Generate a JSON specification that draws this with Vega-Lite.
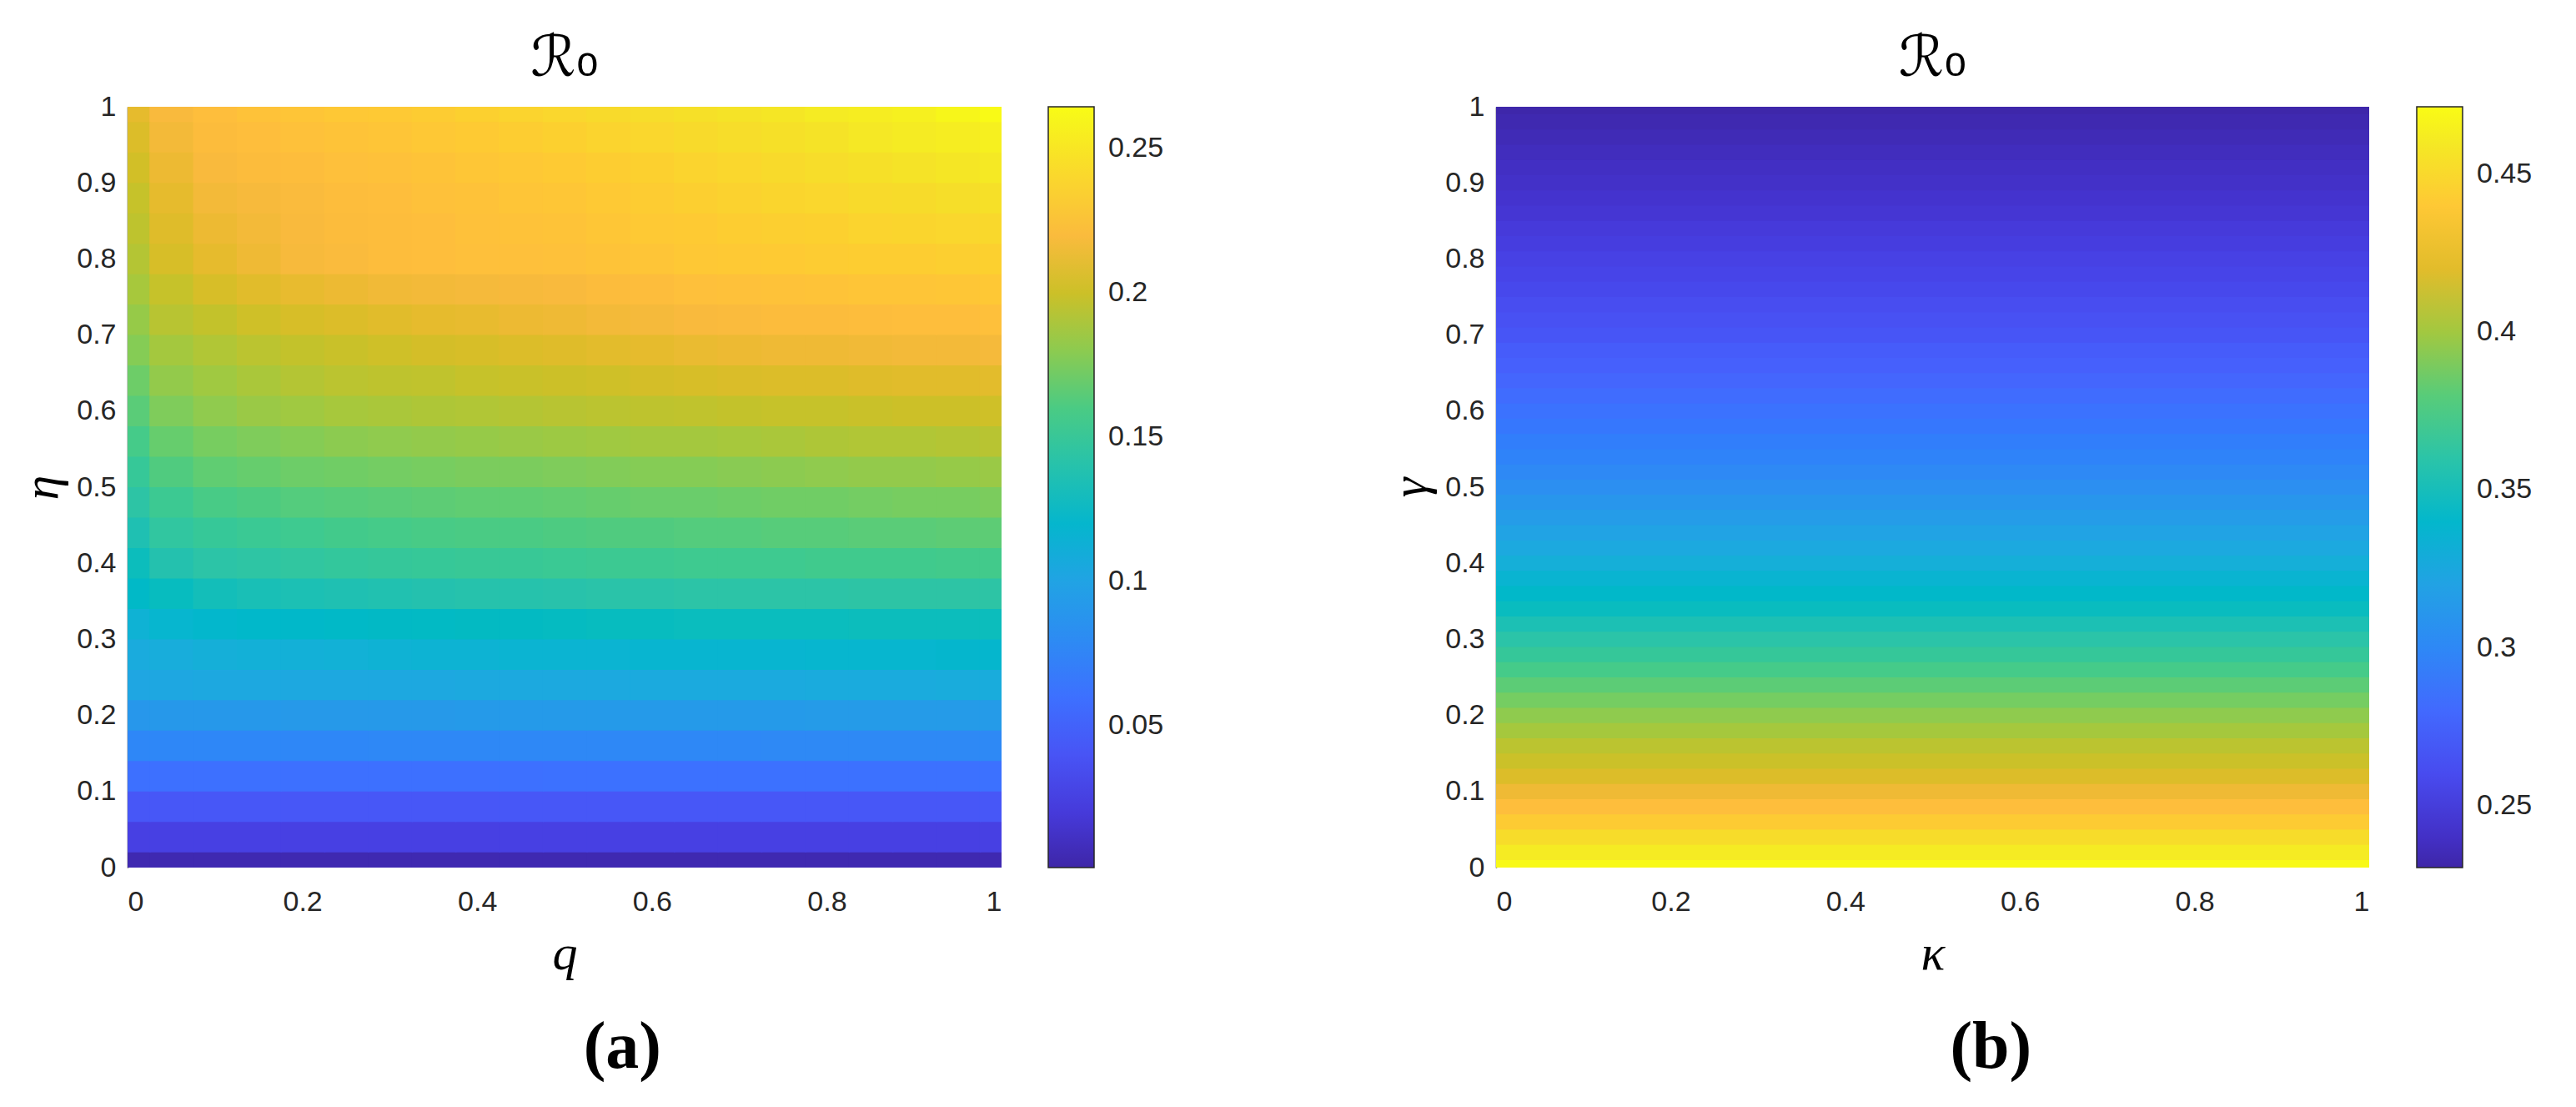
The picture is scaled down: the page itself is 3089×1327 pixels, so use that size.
{
"$schema":"https://vega.github.io/schema/vega-lite/v6.json",
"background":"white",
"padding":{"left":20,"top":37,"right":10,"bottom":10},
"spacing":265,
"config":{
 "view":{"stroke":null},
 "font":"Liberation Sans",
 "axis":{"labelFont":"Liberation Sans","labelFontSize":34,"labelColor":"#262626","ticks":false,"grid":false,"titleFont":"Liberation Serif","titleFontStyle":"italic","titleFontWeight":"normal","titleFontSize":60,"titleColor":"#000000"},
 "axisX":{"domain":false,"labelPadding":24,"titlePadding":16},
 "axisY":{"domain":true,"domainColor":"#262626","domainWidth":1.5,"labelPadding":14,"titlePadding":10},
 "legend":{"gradientVerticalMaxLength":2000,"padding":0},
 "title":{"font":"DejaVu Sans","fontSize":68,"fontWeight":"normal","color":"#000000"}
},
"resolve":{"scale":{"color":"independent","x":"independent","y":"independent"},"legend":{"color":"independent"}},
"hconcat":[
{"title":{"text":"(a)","orient":"bottom","font":"Liberation Serif","fontWeight":"bold","fontSize":80,"anchor":"middle","frame":"bounds","dx":38,"offset":44,"color":"#000000"},
 "vconcat":[{
  "width":1048,"height":912,
  "title":{"text":"ℛ₀","offset":6},
  "data":{"values":[
{"q":0,"eta":0,"R0":0.004},{"q":0.05,"eta":0,"R0":0.004},{"q":0.1,"eta":0,"R0":0.004},{"q":0.15,"eta":0,"R0":0.004},{"q":0.2,"eta":0,"R0":0.004},{"q":0.25,"eta":0,"R0":0.004},{"q":0.3,"eta":0,"R0":0.004},{"q":0.35,"eta":0,"R0":0.004},{"q":0.4,"eta":0,"R0":0.004},{"q":0.45,"eta":0,"R0":0.004},{"q":0.5,"eta":0,"R0":0.004},{"q":0.55,"eta":0,"R0":0.004},{"q":0.6,"eta":0,"R0":0.004},{"q":0.65,"eta":0,"R0":0.004},{"q":0.7,"eta":0,"R0":0.004},{"q":0.75,"eta":0,"R0":0.004},{"q":0.8,"eta":0,"R0":0.004},{"q":0.85,"eta":0,"R0":0.004},{"q":0.9,"eta":0,"R0":0.004},{"q":0.95,"eta":0,"R0":0.004},{"q":1,"eta":0,"R0":0.004},
{"q":0,"eta":0.04,"R0":0.025},{"q":0.05,"eta":0.04,"R0":0.025},{"q":0.1,"eta":0.04,"R0":0.025},{"q":0.15,"eta":0.04,"R0":0.025},{"q":0.2,"eta":0.04,"R0":0.025},{"q":0.25,"eta":0.04,"R0":0.025},{"q":0.3,"eta":0.04,"R0":0.025},{"q":0.35,"eta":0.04,"R0":0.025},{"q":0.4,"eta":0.04,"R0":0.025},{"q":0.45,"eta":0.04,"R0":0.025},{"q":0.5,"eta":0.04,"R0":0.025},{"q":0.55,"eta":0.04,"R0":0.025},{"q":0.6,"eta":0.04,"R0":0.025},{"q":0.65,"eta":0.04,"R0":0.025},{"q":0.7,"eta":0.04,"R0":0.025},{"q":0.75,"eta":0.04,"R0":0.025},{"q":0.8,"eta":0.04,"R0":0.025},{"q":0.85,"eta":0.04,"R0":0.025},{"q":0.9,"eta":0.04,"R0":0.025},{"q":0.95,"eta":0.04,"R0":0.025},{"q":1,"eta":0.04,"R0":0.025},
{"q":0,"eta":0.08,"R0":0.042},{"q":0.05,"eta":0.08,"R0":0.042},{"q":0.1,"eta":0.08,"R0":0.042},{"q":0.15,"eta":0.08,"R0":0.042},{"q":0.2,"eta":0.08,"R0":0.042},{"q":0.25,"eta":0.08,"R0":0.042},{"q":0.3,"eta":0.08,"R0":0.042},{"q":0.35,"eta":0.08,"R0":0.042},{"q":0.4,"eta":0.08,"R0":0.042},{"q":0.45,"eta":0.08,"R0":0.042},{"q":0.5,"eta":0.08,"R0":0.042},{"q":0.55,"eta":0.08,"R0":0.042},{"q":0.6,"eta":0.08,"R0":0.042},{"q":0.65,"eta":0.08,"R0":0.042},{"q":0.7,"eta":0.08,"R0":0.042},{"q":0.75,"eta":0.08,"R0":0.042},{"q":0.8,"eta":0.08,"R0":0.042},{"q":0.85,"eta":0.08,"R0":0.042},{"q":0.9,"eta":0.08,"R0":0.042},{"q":0.95,"eta":0.08,"R0":0.042},{"q":1,"eta":0.08,"R0":0.042},
{"q":0,"eta":0.12,"R0":0.06},{"q":0.05,"eta":0.12,"R0":0.06},{"q":0.1,"eta":0.12,"R0":0.06},{"q":0.15,"eta":0.12,"R0":0.06},{"q":0.2,"eta":0.12,"R0":0.06},{"q":0.25,"eta":0.12,"R0":0.06},{"q":0.3,"eta":0.12,"R0":0.06},{"q":0.35,"eta":0.12,"R0":0.06},{"q":0.4,"eta":0.12,"R0":0.06},{"q":0.45,"eta":0.12,"R0":0.06},{"q":0.5,"eta":0.12,"R0":0.061},{"q":0.55,"eta":0.12,"R0":0.061},{"q":0.6,"eta":0.12,"R0":0.061},{"q":0.65,"eta":0.12,"R0":0.061},{"q":0.7,"eta":0.12,"R0":0.061},{"q":0.75,"eta":0.12,"R0":0.061},{"q":0.8,"eta":0.12,"R0":0.061},{"q":0.85,"eta":0.12,"R0":0.061},{"q":0.9,"eta":0.12,"R0":0.061},{"q":0.95,"eta":0.12,"R0":0.061},{"q":1,"eta":0.12,"R0":0.061},
{"q":0,"eta":0.16,"R0":0.076},{"q":0.05,"eta":0.16,"R0":0.076},{"q":0.1,"eta":0.16,"R0":0.076},{"q":0.15,"eta":0.16,"R0":0.076},{"q":0.2,"eta":0.16,"R0":0.076},{"q":0.25,"eta":0.16,"R0":0.076},{"q":0.3,"eta":0.16,"R0":0.077},{"q":0.35,"eta":0.16,"R0":0.077},{"q":0.4,"eta":0.16,"R0":0.077},{"q":0.45,"eta":0.16,"R0":0.077},{"q":0.5,"eta":0.16,"R0":0.077},{"q":0.55,"eta":0.16,"R0":0.077},{"q":0.6,"eta":0.16,"R0":0.077},{"q":0.65,"eta":0.16,"R0":0.077},{"q":0.7,"eta":0.16,"R0":0.077},{"q":0.75,"eta":0.16,"R0":0.078},{"q":0.8,"eta":0.16,"R0":0.078},{"q":0.85,"eta":0.16,"R0":0.078},{"q":0.9,"eta":0.16,"R0":0.078},{"q":0.95,"eta":0.16,"R0":0.078},{"q":1,"eta":0.16,"R0":0.078},
{"q":0,"eta":0.2,"R0":0.089},{"q":0.05,"eta":0.2,"R0":0.09},{"q":0.1,"eta":0.2,"R0":0.09},{"q":0.15,"eta":0.2,"R0":0.09},{"q":0.2,"eta":0.2,"R0":0.091},{"q":0.25,"eta":0.2,"R0":0.091},{"q":0.3,"eta":0.2,"R0":0.091},{"q":0.35,"eta":0.2,"R0":0.091},{"q":0.4,"eta":0.2,"R0":0.092},{"q":0.45,"eta":0.2,"R0":0.092},{"q":0.5,"eta":0.2,"R0":0.092},{"q":0.55,"eta":0.2,"R0":0.092},{"q":0.6,"eta":0.2,"R0":0.092},{"q":0.65,"eta":0.2,"R0":0.092},{"q":0.7,"eta":0.2,"R0":0.092},{"q":0.75,"eta":0.2,"R0":0.092},{"q":0.8,"eta":0.2,"R0":0.093},{"q":0.85,"eta":0.2,"R0":0.093},{"q":0.9,"eta":0.2,"R0":0.093},{"q":0.95,"eta":0.2,"R0":0.093},{"q":1,"eta":0.2,"R0":0.093},
{"q":0,"eta":0.24,"R0":0.102},{"q":0.05,"eta":0.24,"R0":0.103},{"q":0.1,"eta":0.24,"R0":0.104},{"q":0.15,"eta":0.24,"R0":0.104},{"q":0.2,"eta":0.24,"R0":0.105},{"q":0.25,"eta":0.24,"R0":0.105},{"q":0.3,"eta":0.24,"R0":0.105},{"q":0.35,"eta":0.24,"R0":0.105},{"q":0.4,"eta":0.24,"R0":0.106},{"q":0.45,"eta":0.24,"R0":0.106},{"q":0.5,"eta":0.24,"R0":0.106},{"q":0.55,"eta":0.24,"R0":0.106},{"q":0.6,"eta":0.24,"R0":0.107},{"q":0.65,"eta":0.24,"R0":0.107},{"q":0.7,"eta":0.24,"R0":0.107},{"q":0.75,"eta":0.24,"R0":0.107},{"q":0.8,"eta":0.24,"R0":0.108},{"q":0.85,"eta":0.24,"R0":0.108},{"q":0.9,"eta":0.24,"R0":0.108},{"q":0.95,"eta":0.24,"R0":0.109},{"q":1,"eta":0.24,"R0":0.109},
{"q":0,"eta":0.28,"R0":0.108},{"q":0.05,"eta":0.28,"R0":0.11},{"q":0.1,"eta":0.28,"R0":0.112},{"q":0.15,"eta":0.28,"R0":0.113},{"q":0.2,"eta":0.28,"R0":0.113},{"q":0.25,"eta":0.28,"R0":0.114},{"q":0.3,"eta":0.28,"R0":0.115},{"q":0.35,"eta":0.28,"R0":0.116},{"q":0.4,"eta":0.28,"R0":0.116},{"q":0.45,"eta":0.28,"R0":0.117},{"q":0.5,"eta":0.28,"R0":0.117},{"q":0.55,"eta":0.28,"R0":0.117},{"q":0.6,"eta":0.28,"R0":0.118},{"q":0.65,"eta":0.28,"R0":0.118},{"q":0.7,"eta":0.28,"R0":0.118},{"q":0.75,"eta":0.28,"R0":0.118},{"q":0.8,"eta":0.28,"R0":0.119},{"q":0.85,"eta":0.28,"R0":0.119},{"q":0.9,"eta":0.28,"R0":0.119},{"q":0.95,"eta":0.28,"R0":0.12},{"q":1,"eta":0.28,"R0":0.12},
{"q":0,"eta":0.32,"R0":0.115},{"q":0.05,"eta":0.32,"R0":0.119},{"q":0.1,"eta":0.32,"R0":0.121},{"q":0.15,"eta":0.32,"R0":0.122},{"q":0.2,"eta":0.32,"R0":0.123},{"q":0.25,"eta":0.32,"R0":0.124},{"q":0.3,"eta":0.32,"R0":0.125},{"q":0.35,"eta":0.32,"R0":0.126},{"q":0.4,"eta":0.32,"R0":0.127},{"q":0.45,"eta":0.32,"R0":0.127},{"q":0.5,"eta":0.32,"R0":0.128},{"q":0.55,"eta":0.32,"R0":0.129},{"q":0.6,"eta":0.32,"R0":0.129},{"q":0.65,"eta":0.32,"R0":0.13},{"q":0.7,"eta":0.32,"R0":0.13},{"q":0.75,"eta":0.32,"R0":0.13},{"q":0.8,"eta":0.32,"R0":0.13},{"q":0.85,"eta":0.32,"R0":0.131},{"q":0.9,"eta":0.32,"R0":0.131},{"q":0.95,"eta":0.32,"R0":0.131},{"q":1,"eta":0.32,"R0":0.131},
{"q":0,"eta":0.36,"R0":0.124},{"q":0.05,"eta":0.36,"R0":0.129},{"q":0.1,"eta":0.36,"R0":0.133},{"q":0.15,"eta":0.36,"R0":0.135},{"q":0.2,"eta":0.36,"R0":0.136},{"q":0.25,"eta":0.36,"R0":0.137},{"q":0.3,"eta":0.36,"R0":0.138},{"q":0.35,"eta":0.36,"R0":0.139},{"q":0.4,"eta":0.36,"R0":0.14},{"q":0.45,"eta":0.36,"R0":0.14},{"q":0.5,"eta":0.36,"R0":0.141},{"q":0.55,"eta":0.36,"R0":0.142},{"q":0.6,"eta":0.36,"R0":0.142},{"q":0.65,"eta":0.36,"R0":0.143},{"q":0.7,"eta":0.36,"R0":0.143},{"q":0.75,"eta":0.36,"R0":0.143},{"q":0.8,"eta":0.36,"R0":0.143},{"q":0.85,"eta":0.36,"R0":0.144},{"q":0.9,"eta":0.36,"R0":0.144},{"q":0.95,"eta":0.36,"R0":0.144},{"q":1,"eta":0.36,"R0":0.144},
{"q":0,"eta":0.4,"R0":0.131},{"q":0.05,"eta":0.4,"R0":0.139},{"q":0.1,"eta":0.4,"R0":0.143},{"q":0.15,"eta":0.4,"R0":0.145},{"q":0.2,"eta":0.4,"R0":0.147},{"q":0.25,"eta":0.4,"R0":0.149},{"q":0.3,"eta":0.4,"R0":0.15},{"q":0.35,"eta":0.4,"R0":0.151},{"q":0.4,"eta":0.4,"R0":0.152},{"q":0.45,"eta":0.4,"R0":0.152},{"q":0.5,"eta":0.4,"R0":0.153},{"q":0.55,"eta":0.4,"R0":0.154},{"q":0.6,"eta":0.4,"R0":0.154},{"q":0.65,"eta":0.4,"R0":0.155},{"q":0.7,"eta":0.4,"R0":0.155},{"q":0.75,"eta":0.4,"R0":0.155},{"q":0.8,"eta":0.4,"R0":0.156},{"q":0.85,"eta":0.4,"R0":0.156},{"q":0.9,"eta":0.4,"R0":0.156},{"q":0.95,"eta":0.4,"R0":0.157},{"q":1,"eta":0.4,"R0":0.157},
{"q":0,"eta":0.44,"R0":0.137},{"q":0.05,"eta":0.44,"R0":0.147},{"q":0.1,"eta":0.44,"R0":0.151},{"q":0.15,"eta":0.44,"R0":0.153},{"q":0.2,"eta":0.44,"R0":0.155},{"q":0.25,"eta":0.44,"R0":0.157},{"q":0.3,"eta":0.44,"R0":0.158},{"q":0.35,"eta":0.44,"R0":0.159},{"q":0.4,"eta":0.44,"R0":0.16},{"q":0.45,"eta":0.44,"R0":0.16},{"q":0.5,"eta":0.44,"R0":0.161},{"q":0.55,"eta":0.44,"R0":0.162},{"q":0.6,"eta":0.44,"R0":0.162},{"q":0.65,"eta":0.44,"R0":0.163},{"q":0.7,"eta":0.44,"R0":0.163},{"q":0.75,"eta":0.44,"R0":0.164},{"q":0.8,"eta":0.44,"R0":0.164},{"q":0.85,"eta":0.44,"R0":0.165},{"q":0.9,"eta":0.44,"R0":0.165},{"q":0.95,"eta":0.44,"R0":0.166},{"q":1,"eta":0.44,"R0":0.166},
{"q":0,"eta":0.48,"R0":0.144},{"q":0.05,"eta":0.48,"R0":0.154},{"q":0.1,"eta":0.48,"R0":0.159},{"q":0.15,"eta":0.48,"R0":0.161},{"q":0.2,"eta":0.48,"R0":0.163},{"q":0.25,"eta":0.48,"R0":0.164},{"q":0.3,"eta":0.48,"R0":0.165},{"q":0.35,"eta":0.48,"R0":0.166},{"q":0.4,"eta":0.48,"R0":0.167},{"q":0.45,"eta":0.48,"R0":0.167},{"q":0.5,"eta":0.48,"R0":0.168},{"q":0.55,"eta":0.48,"R0":0.169},{"q":0.6,"eta":0.48,"R0":0.17},{"q":0.65,"eta":0.48,"R0":0.17},{"q":0.7,"eta":0.48,"R0":0.171},{"q":0.75,"eta":0.48,"R0":0.172},{"q":0.8,"eta":0.48,"R0":0.172},{"q":0.85,"eta":0.48,"R0":0.173},{"q":0.9,"eta":0.48,"R0":0.174},{"q":0.95,"eta":0.48,"R0":0.174},{"q":1,"eta":0.48,"R0":0.175},
{"q":0,"eta":0.52,"R0":0.151},{"q":0.05,"eta":0.52,"R0":0.162},{"q":0.1,"eta":0.52,"R0":0.167},{"q":0.15,"eta":0.52,"R0":0.169},{"q":0.2,"eta":0.52,"R0":0.171},{"q":0.25,"eta":0.52,"R0":0.172},{"q":0.3,"eta":0.52,"R0":0.173},{"q":0.35,"eta":0.52,"R0":0.174},{"q":0.4,"eta":0.52,"R0":0.175},{"q":0.45,"eta":0.52,"R0":0.175},{"q":0.5,"eta":0.52,"R0":0.176},{"q":0.55,"eta":0.52,"R0":0.177},{"q":0.6,"eta":0.52,"R0":0.178},{"q":0.65,"eta":0.52,"R0":0.178},{"q":0.7,"eta":0.52,"R0":0.179},{"q":0.75,"eta":0.52,"R0":0.18},{"q":0.8,"eta":0.52,"R0":0.181},{"q":0.85,"eta":0.52,"R0":0.182},{"q":0.9,"eta":0.52,"R0":0.182},{"q":0.95,"eta":0.52,"R0":0.183},{"q":1,"eta":0.52,"R0":0.184},
{"q":0,"eta":0.56,"R0":0.158},{"q":0.05,"eta":0.56,"R0":0.169},{"q":0.1,"eta":0.56,"R0":0.174},{"q":0.15,"eta":0.56,"R0":0.176},{"q":0.2,"eta":0.56,"R0":0.178},{"q":0.25,"eta":0.56,"R0":0.18},{"q":0.3,"eta":0.56,"R0":0.181},{"q":0.35,"eta":0.56,"R0":0.182},{"q":0.4,"eta":0.56,"R0":0.183},{"q":0.45,"eta":0.56,"R0":0.184},{"q":0.5,"eta":0.56,"R0":0.185},{"q":0.55,"eta":0.56,"R0":0.186},{"q":0.6,"eta":0.56,"R0":0.187},{"q":0.65,"eta":0.56,"R0":0.187},{"q":0.7,"eta":0.56,"R0":0.188},{"q":0.75,"eta":0.56,"R0":0.189},{"q":0.8,"eta":0.56,"R0":0.19},{"q":0.85,"eta":0.56,"R0":0.191},{"q":0.9,"eta":0.56,"R0":0.191},{"q":0.95,"eta":0.56,"R0":0.192},{"q":1,"eta":0.56,"R0":0.193},
{"q":0,"eta":0.6,"R0":0.165},{"q":0.05,"eta":0.6,"R0":0.176},{"q":0.1,"eta":0.6,"R0":0.181},{"q":0.15,"eta":0.6,"R0":0.184},{"q":0.2,"eta":0.6,"R0":0.186},{"q":0.25,"eta":0.6,"R0":0.188},{"q":0.3,"eta":0.6,"R0":0.189},{"q":0.35,"eta":0.6,"R0":0.19},{"q":0.4,"eta":0.6,"R0":0.191},{"q":0.45,"eta":0.6,"R0":0.192},{"q":0.5,"eta":0.6,"R0":0.193},{"q":0.55,"eta":0.6,"R0":0.194},{"q":0.6,"eta":0.6,"R0":0.195},{"q":0.65,"eta":0.6,"R0":0.196},{"q":0.7,"eta":0.6,"R0":0.197},{"q":0.75,"eta":0.6,"R0":0.198},{"q":0.8,"eta":0.6,"R0":0.198},{"q":0.85,"eta":0.6,"R0":0.199},{"q":0.9,"eta":0.6,"R0":0.2},{"q":0.95,"eta":0.6,"R0":0.2},{"q":1,"eta":0.6,"R0":0.201},
{"q":0,"eta":0.64,"R0":0.171},{"q":0.05,"eta":0.64,"R0":0.182},{"q":0.1,"eta":0.64,"R0":0.186},{"q":0.15,"eta":0.64,"R0":0.189},{"q":0.2,"eta":0.64,"R0":0.192},{"q":0.25,"eta":0.64,"R0":0.194},{"q":0.3,"eta":0.64,"R0":0.195},{"q":0.35,"eta":0.64,"R0":0.196},{"q":0.4,"eta":0.64,"R0":0.198},{"q":0.45,"eta":0.64,"R0":0.199},{"q":0.5,"eta":0.64,"R0":0.2},{"q":0.55,"eta":0.64,"R0":0.201},{"q":0.6,"eta":0.64,"R0":0.203},{"q":0.65,"eta":0.64,"R0":0.204},{"q":0.7,"eta":0.64,"R0":0.205},{"q":0.75,"eta":0.64,"R0":0.206},{"q":0.8,"eta":0.64,"R0":0.206},{"q":0.85,"eta":0.64,"R0":0.207},{"q":0.9,"eta":0.64,"R0":0.208},{"q":0.95,"eta":0.64,"R0":0.208},{"q":1,"eta":0.64,"R0":0.209},
{"q":0,"eta":0.68,"R0":0.178},{"q":0.05,"eta":0.68,"R0":0.187},{"q":0.1,"eta":0.68,"R0":0.191},{"q":0.15,"eta":0.68,"R0":0.194},{"q":0.2,"eta":0.68,"R0":0.197},{"q":0.25,"eta":0.68,"R0":0.199},{"q":0.3,"eta":0.68,"R0":0.201},{"q":0.35,"eta":0.68,"R0":0.203},{"q":0.4,"eta":0.68,"R0":0.204},{"q":0.45,"eta":0.68,"R0":0.206},{"q":0.5,"eta":0.68,"R0":0.207},{"q":0.55,"eta":0.68,"R0":0.209},{"q":0.6,"eta":0.68,"R0":0.21},{"q":0.65,"eta":0.68,"R0":0.212},{"q":0.7,"eta":0.68,"R0":0.213},{"q":0.75,"eta":0.68,"R0":0.214},{"q":0.8,"eta":0.68,"R0":0.214},{"q":0.85,"eta":0.68,"R0":0.215},{"q":0.9,"eta":0.68,"R0":0.216},{"q":0.95,"eta":0.68,"R0":0.216},{"q":1,"eta":0.68,"R0":0.217},
{"q":0,"eta":0.72,"R0":0.183},{"q":0.05,"eta":0.72,"R0":0.193},{"q":0.1,"eta":0.72,"R0":0.197},{"q":0.15,"eta":0.72,"R0":0.201},{"q":0.2,"eta":0.72,"R0":0.204},{"q":0.25,"eta":0.72,"R0":0.206},{"q":0.3,"eta":0.72,"R0":0.208},{"q":0.35,"eta":0.72,"R0":0.21},{"q":0.4,"eta":0.72,"R0":0.211},{"q":0.45,"eta":0.72,"R0":0.213},{"q":0.5,"eta":0.72,"R0":0.214},{"q":0.55,"eta":0.72,"R0":0.216},{"q":0.6,"eta":0.72,"R0":0.217},{"q":0.65,"eta":0.72,"R0":0.219},{"q":0.7,"eta":0.72,"R0":0.22},{"q":0.75,"eta":0.72,"R0":0.221},{"q":0.8,"eta":0.72,"R0":0.221},{"q":0.85,"eta":0.72,"R0":0.222},{"q":0.9,"eta":0.72,"R0":0.223},{"q":0.95,"eta":0.72,"R0":0.223},{"q":1,"eta":0.72,"R0":0.224},
{"q":0,"eta":0.76,"R0":0.188},{"q":0.05,"eta":0.76,"R0":0.198},{"q":0.1,"eta":0.76,"R0":0.204},{"q":0.15,"eta":0.76,"R0":0.208},{"q":0.2,"eta":0.76,"R0":0.211},{"q":0.25,"eta":0.76,"R0":0.213},{"q":0.3,"eta":0.76,"R0":0.215},{"q":0.35,"eta":0.76,"R0":0.216},{"q":0.4,"eta":0.76,"R0":0.217},{"q":0.45,"eta":0.76,"R0":0.218},{"q":0.5,"eta":0.76,"R0":0.219},{"q":0.55,"eta":0.76,"R0":0.221},{"q":0.6,"eta":0.76,"R0":0.222},{"q":0.65,"eta":0.76,"R0":0.224},{"q":0.7,"eta":0.76,"R0":0.225},{"q":0.75,"eta":0.76,"R0":0.226},{"q":0.8,"eta":0.76,"R0":0.227},{"q":0.85,"eta":0.76,"R0":0.228},{"q":0.9,"eta":0.76,"R0":0.228},{"q":0.95,"eta":0.76,"R0":0.229},{"q":1,"eta":0.76,"R0":0.23},
{"q":0,"eta":0.8,"R0":0.192},{"q":0.05,"eta":0.8,"R0":0.204},{"q":0.1,"eta":0.8,"R0":0.21},{"q":0.15,"eta":0.8,"R0":0.214},{"q":0.2,"eta":0.8,"R0":0.218},{"q":0.25,"eta":0.8,"R0":0.22},{"q":0.3,"eta":0.8,"R0":0.222},{"q":0.35,"eta":0.8,"R0":0.223},{"q":0.4,"eta":0.8,"R0":0.224},{"q":0.45,"eta":0.8,"R0":0.224},{"q":0.5,"eta":0.8,"R0":0.225},{"q":0.55,"eta":0.8,"R0":0.227},{"q":0.6,"eta":0.8,"R0":0.228},{"q":0.65,"eta":0.8,"R0":0.23},{"q":0.7,"eta":0.8,"R0":0.231},{"q":0.75,"eta":0.8,"R0":0.232},{"q":0.8,"eta":0.8,"R0":0.233},{"q":0.85,"eta":0.8,"R0":0.234},{"q":0.9,"eta":0.8,"R0":0.234},{"q":0.95,"eta":0.8,"R0":0.235},{"q":1,"eta":0.8,"R0":0.236},
{"q":0,"eta":0.84,"R0":0.195},{"q":0.05,"eta":0.84,"R0":0.207},{"q":0.1,"eta":0.84,"R0":0.213},{"q":0.15,"eta":0.84,"R0":0.216},{"q":0.2,"eta":0.84,"R0":0.219},{"q":0.25,"eta":0.84,"R0":0.221},{"q":0.3,"eta":0.84,"R0":0.222},{"q":0.35,"eta":0.84,"R0":0.223},{"q":0.4,"eta":0.84,"R0":0.225},{"q":0.45,"eta":0.84,"R0":0.226},{"q":0.5,"eta":0.84,"R0":0.227},{"q":0.55,"eta":0.84,"R0":0.229},{"q":0.6,"eta":0.84,"R0":0.231},{"q":0.65,"eta":0.84,"R0":0.232},{"q":0.7,"eta":0.84,"R0":0.234},{"q":0.75,"eta":0.84,"R0":0.235},{"q":0.8,"eta":0.84,"R0":0.236},{"q":0.85,"eta":0.84,"R0":0.238},{"q":0.9,"eta":0.84,"R0":0.239},{"q":0.95,"eta":0.84,"R0":0.24},{"q":1,"eta":0.84,"R0":0.241},
{"q":0,"eta":0.88,"R0":0.198},{"q":0.05,"eta":0.88,"R0":0.21},{"q":0.1,"eta":0.88,"R0":0.216},{"q":0.15,"eta":0.88,"R0":0.218},{"q":0.2,"eta":0.88,"R0":0.22},{"q":0.25,"eta":0.88,"R0":0.222},{"q":0.3,"eta":0.88,"R0":0.223},{"q":0.35,"eta":0.88,"R0":0.225},{"q":0.4,"eta":0.88,"R0":0.226},{"q":0.45,"eta":0.88,"R0":0.228},{"q":0.5,"eta":0.88,"R0":0.229},{"q":0.55,"eta":0.88,"R0":0.231},{"q":0.6,"eta":0.88,"R0":0.233},{"q":0.65,"eta":0.88,"R0":0.235},{"q":0.7,"eta":0.88,"R0":0.237},{"q":0.75,"eta":0.88,"R0":0.239},{"q":0.8,"eta":0.88,"R0":0.24},{"q":0.85,"eta":0.88,"R0":0.242},{"q":0.9,"eta":0.88,"R0":0.243},{"q":0.95,"eta":0.88,"R0":0.245},{"q":1,"eta":0.88,"R0":0.246},
{"q":0,"eta":0.92,"R0":0.202},{"q":0.05,"eta":0.92,"R0":0.213},{"q":0.1,"eta":0.92,"R0":0.219},{"q":0.15,"eta":0.92,"R0":0.221},{"q":0.2,"eta":0.92,"R0":0.222},{"q":0.25,"eta":0.92,"R0":0.224},{"q":0.3,"eta":0.92,"R0":0.225},{"q":0.35,"eta":0.92,"R0":0.227},{"q":0.4,"eta":0.92,"R0":0.229},{"q":0.45,"eta":0.92,"R0":0.23},{"q":0.5,"eta":0.92,"R0":0.232},{"q":0.55,"eta":0.92,"R0":0.234},{"q":0.6,"eta":0.92,"R0":0.236},{"q":0.65,"eta":0.92,"R0":0.238},{"q":0.7,"eta":0.92,"R0":0.24},{"q":0.75,"eta":0.92,"R0":0.242},{"q":0.8,"eta":0.92,"R0":0.244},{"q":0.85,"eta":0.92,"R0":0.246},{"q":0.9,"eta":0.92,"R0":0.248},{"q":0.95,"eta":0.92,"R0":0.25},{"q":1,"eta":0.92,"R0":0.252},
{"q":0,"eta":0.96,"R0":0.206},{"q":0.05,"eta":0.96,"R0":0.216},{"q":0.1,"eta":0.96,"R0":0.221},{"q":0.15,"eta":0.96,"R0":0.223},{"q":0.2,"eta":0.96,"R0":0.225},{"q":0.25,"eta":0.96,"R0":0.227},{"q":0.3,"eta":0.96,"R0":0.228},{"q":0.35,"eta":0.96,"R0":0.23},{"q":0.4,"eta":0.96,"R0":0.232},{"q":0.45,"eta":0.96,"R0":0.234},{"q":0.5,"eta":0.96,"R0":0.236},{"q":0.55,"eta":0.96,"R0":0.238},{"q":0.6,"eta":0.96,"R0":0.24},{"q":0.65,"eta":0.96,"R0":0.242},{"q":0.7,"eta":0.96,"R0":0.244},{"q":0.75,"eta":0.96,"R0":0.246},{"q":0.8,"eta":0.96,"R0":0.248},{"q":0.85,"eta":0.96,"R0":0.251},{"q":0.9,"eta":0.96,"R0":0.253},{"q":0.95,"eta":0.96,"R0":0.255},{"q":1,"eta":0.96,"R0":0.257},
{"q":0,"eta":1,"R0":0.21},{"q":0.05,"eta":1,"R0":0.219},{"q":0.1,"eta":1,"R0":0.223},{"q":0.15,"eta":1,"R0":0.226},{"q":0.2,"eta":1,"R0":0.228},{"q":0.25,"eta":1,"R0":0.23},{"q":0.3,"eta":1,"R0":0.231},{"q":0.35,"eta":1,"R0":0.233},{"q":0.4,"eta":1,"R0":0.236},{"q":0.45,"eta":1,"R0":0.238},{"q":0.5,"eta":1,"R0":0.24},{"q":0.55,"eta":1,"R0":0.242},{"q":0.6,"eta":1,"R0":0.244},{"q":0.65,"eta":1,"R0":0.246},{"q":0.7,"eta":1,"R0":0.248},{"q":0.75,"eta":1,"R0":0.25},{"q":0.8,"eta":1,"R0":0.253},{"q":0.85,"eta":1,"R0":0.255},{"q":0.9,"eta":1,"R0":0.257},{"q":0.95,"eta":1,"R0":0.261},{"q":1,"eta":1,"R0":0.264}
  ]},
  "transform":[
   {"bin":{"step":0.05,"extent":[-0.025,1.025],"nice":false},"field":"q","as":"q0"},
   {"bin":{"step":0.04,"extent":[-0.02,1.02],"nice":false},"field":"eta","as":"e0"}
  ],
  "mark":{"type":"rect","clip":true,"x2Offset":1.5,"y2Offset":-1.5},
  "encoding":{
   "x":{"field":"q0","type":"quantitative","scale":{"domain":[0,1],"nice":false,"zero":false},"axis":{"values":[0,0.2,0.4,0.6,0.8,1],"format":"~g","title":"q"}},
   "x2":{"field":"q0_end"},
   "y":{"field":"e0","type":"quantitative","scale":{"domain":[0,1],"nice":false,"zero":false},"axis":{"values":[0,0.1,0.2,0.3,0.4,0.5,0.6,0.7,0.8,0.9,1],"format":"~g","title":"η"}},
   "y2":{"field":"e0_end"},
   "color":{"field":"R0","type":"quantitative","scale":{"domain":[0.001,0.2645],"interpolate":"rgb","range":["#3E26A8","#402AB4","#422EC0","#4332CB","#4537D5","#463CDE","#4741E5","#4747EB","#484DF0","#4852F4","#4758F8","#465EFB","#4563FD","#4269FE","#3E6FFF","#3875FE","#327CFC","#2F81FA","#2E87F7","#2D8CF3","#2B91EF","#2797EB","#259BE8","#23A0E5","#20A5E3","#1CA9DF","#18ADDB","#12B1D6","#08B5D0","#01B8CA","#02BAC3","#0BBDBD","#19BFB6","#24C1AE","#2CC4A7","#31C69F","#37C897","#3FCA8E","#4ACB84","#57CC7A","#64CD6F","#72CD64","#81CC59","#8FCB4E","#9DC943","#ABC739","#B9C431","#C5C22A","#D1BF27","#DCBD29","#E6BB2D","#F0BA36","#F8BA3D","#FEBE3C","#FEC338","#FEC934","#FCCF30","#FAD62D","#F7DC2A","#F5E327","#F5E924","#F6EF20","#F7F51B","#F9FB15"]},
    "legend":{"type":"gradient","direction":"vertical","orient":"right","offset":56,"title":null,"values":[0.05,0.1,0.15,0.2,0.25],"format":"~g","gradientLength":912,"gradientThickness":55,"gradientStrokeColor":"#262626","gradientStrokeWidth":1.5,"labelFont":"Liberation Sans","labelFontSize":34,"labelColor":"#262626","labelOffset":17,"labelOverlap":false,"padding":0}}
  }
 }]
},
{"title":{"text":"(b)","orient":"bottom","font":"Liberation Serif","fontWeight":"bold","fontSize":80,"anchor":"middle","frame":"bounds","dx":38,"offset":44,"color":"#000000"},
 "vconcat":[{
  "width":1047,"height":912,
  "title":{"text":"ℛ₀","offset":6},
  "data":{"values":[
{"kappa":0.5,"gamma":0,"R0":0.47},{"kappa":0.5,"gamma":0.02,"R0":0.461},{"kappa":0.5,"gamma":0.04,"R0":0.452},{"kappa":0.5,"gamma":0.06,"R0":0.442},{"kappa":0.5,"gamma":0.08,"R0":0.433},{"kappa":0.5,"gamma":0.1,"R0":0.425},{"kappa":0.5,"gamma":0.12,"R0":0.418},{"kappa":0.5,"gamma":0.14,"R0":0.412},{"kappa":0.5,"gamma":0.16,"R0":0.407},{"kappa":0.5,"gamma":0.18,"R0":0.401},{"kappa":0.5,"gamma":0.2,"R0":0.395},{"kappa":0.5,"gamma":0.22,"R0":0.388},{"kappa":0.5,"gamma":0.24,"R0":0.381},{"kappa":0.5,"gamma":0.26,"R0":0.374},{"kappa":0.5,"gamma":0.28,"R0":0.367},{"kappa":0.5,"gamma":0.3,"R0":0.36},{"kappa":0.5,"gamma":0.32,"R0":0.354},{"kappa":0.5,"gamma":0.34,"R0":0.348},{"kappa":0.5,"gamma":0.36,"R0":0.342},{"kappa":0.5,"gamma":0.38,"R0":0.337},{"kappa":0.5,"gamma":0.4,"R0":0.332},{"kappa":0.5,"gamma":0.42,"R0":0.326},{"kappa":0.5,"gamma":0.44,"R0":0.321},{"kappa":0.5,"gamma":0.46,"R0":0.315},{"kappa":0.5,"gamma":0.48,"R0":0.31},{"kappa":0.5,"gamma":0.5,"R0":0.305},{"kappa":0.5,"gamma":0.52,"R0":0.301},{"kappa":0.5,"gamma":0.54,"R0":0.297},{"kappa":0.5,"gamma":0.56,"R0":0.293},{"kappa":0.5,"gamma":0.58,"R0":0.289},{"kappa":0.5,"gamma":0.6,"R0":0.286},{"kappa":0.5,"gamma":0.62,"R0":0.282},{"kappa":0.5,"gamma":0.64,"R0":0.278},{"kappa":0.5,"gamma":0.66,"R0":0.274},{"kappa":0.5,"gamma":0.68,"R0":0.271},{"kappa":0.5,"gamma":0.7,"R0":0.267},{"kappa":0.5,"gamma":0.72,"R0":0.264},{"kappa":0.5,"gamma":0.74,"R0":0.261},{"kappa":0.5,"gamma":0.76,"R0":0.258},{"kappa":0.5,"gamma":0.78,"R0":0.255},{"kappa":0.5,"gamma":0.8,"R0":0.253},{"kappa":0.5,"gamma":0.82,"R0":0.25},{"kappa":0.5,"gamma":0.84,"R0":0.248},{"kappa":0.5,"gamma":0.86,"R0":0.245},{"kappa":0.5,"gamma":0.88,"R0":0.243},{"kappa":0.5,"gamma":0.9,"R0":0.241},{"kappa":0.5,"gamma":0.92,"R0":0.239},{"kappa":0.5,"gamma":0.94,"R0":0.237},{"kappa":0.5,"gamma":0.96,"R0":0.235},{"kappa":0.5,"gamma":0.98,"R0":0.233},{"kappa":0.5,"gamma":1,"R0":0.231}
  ]},
  "transform":[
   {"bin":{"step":1,"extent":[0,1],"nice":false},"field":"kappa","as":"k0"},
   {"bin":{"step":0.02,"extent":[-0.01,1.01],"nice":false},"field":"gamma","as":"g0"}
  ],
  "mark":{"type":"rect","clip":true,"y2Offset":-1.5},
  "encoding":{
   "x":{"field":"k0","type":"quantitative","scale":{"domain":[0,1],"nice":false,"zero":false},"axis":{"values":[0,0.2,0.4,0.6,0.8,1],"format":"~g","title":"κ"}},
   "x2":{"field":"k0_end"},
   "y":{"field":"g0","type":"quantitative","scale":{"domain":[0,1],"nice":false,"zero":false},"axis":{"values":[0,0.1,0.2,0.3,0.4,0.5,0.6,0.7,0.8,0.9,1],"format":"~g","title":"γ"}},
   "y2":{"field":"g0_end"},
   "color":{"field":"R0","type":"quantitative","scale":{"domain":[0.2304,0.4714],"interpolate":"rgb","range":["#3E26A8","#402AB4","#422EC0","#4332CB","#4537D5","#463CDE","#4741E5","#4747EB","#484DF0","#4852F4","#4758F8","#465EFB","#4563FD","#4269FE","#3E6FFF","#3875FE","#327CFC","#2F81FA","#2E87F7","#2D8CF3","#2B91EF","#2797EB","#259BE8","#23A0E5","#20A5E3","#1CA9DF","#18ADDB","#12B1D6","#08B5D0","#01B8CA","#02BAC3","#0BBDBD","#19BFB6","#24C1AE","#2CC4A7","#31C69F","#37C897","#3FCA8E","#4ACB84","#57CC7A","#64CD6F","#72CD64","#81CC59","#8FCB4E","#9DC943","#ABC739","#B9C431","#C5C22A","#D1BF27","#DCBD29","#E6BB2D","#F0BA36","#F8BA3D","#FEBE3C","#FEC338","#FEC934","#FCCF30","#FAD62D","#F7DC2A","#F5E327","#F5E924","#F6EF20","#F7F51B","#F9FB15"]},
    "legend":{"type":"gradient","direction":"vertical","orient":"right","offset":57,"title":null,"values":[0.25,0.3,0.35,0.4,0.45],"format":"~g","gradientLength":912,"gradientThickness":55,"gradientStrokeColor":"#262626","gradientStrokeWidth":1.5,"labelFont":"Liberation Sans","labelFontSize":34,"labelColor":"#262626","labelOffset":17,"labelOverlap":false,"padding":0}}
  }
 }]
}
]
}
